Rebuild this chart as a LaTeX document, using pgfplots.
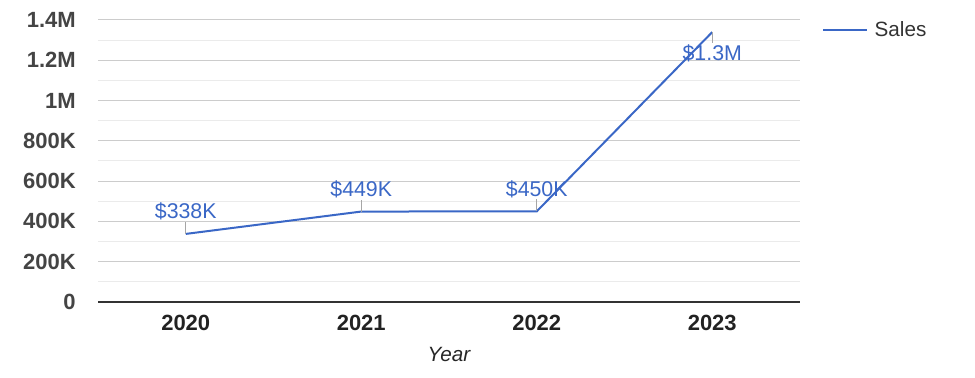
\documentclass[border=0pt]{standalone}
\usepackage{pgfplots}
\pgfplotsset{compat=1.18}
\usepackage{fontspec}
\setmainfont{Liberation Sans}
\definecolor{lineblue}{HTML}{3A67C6}
\definecolor{gridmaj}{HTML}{CCCCCC}
\definecolor{gridmin}{HTML}{EBEBEB}
\definecolor{ylab}{HTML}{444444}
\definecolor{xlab}{HTML}{222222}
\begin{document}
\begin{tikzpicture}
\useasboundingbox (0,0) rectangle (731.25pt,283.5pt);
\begin{axis}[
  at={(73.5pt,57pt)}, anchor=south west,
  width=526.5pt, height=211.5pt, scale only axis,
  xmin=-0.5, xmax=3.5, ymin=0, ymax=1400000,
  xtick={0,1,2,3}, xticklabels={2020,2021,2022,2023},
  ytick={0,200000,400000,600000,800000,1000000,1200000,1400000},
  yticklabels={0,200K,400K,600K,800K,1M,1.2M,1.4M},
  minor ytick={100000,300000,500000,700000,900000,1100000,1300000},
  scaled y ticks=false,
  ymajorgrids, yminorgrids,
  major grid style={gridmaj, line width=0.75pt},
  minor grid style={gridmin, line width=0.75pt},
  axis x line*=bottom, axis y line*=left,
  y axis line style={draw=none},
  x axis line style={color=black!80, line width=0.9pt, -},
  major tick length=0pt, minor tick length=0pt,
  tick label style={font=\fontsize{16.5}{18}\selectfont\bfseries},
  yticklabel style={color=ylab, anchor=east, inner sep=0pt, xshift=-16.5pt},
  xticklabel style={color=xlab, anchor=north, inner sep=0pt, yshift=-10pt},
  xlabel={Year},
  xlabel style={font=\fontsize{15.5}{18}\selectfont\itshape, color=black!85, at={(axis description cs:0.5,0)}, anchor=base, yshift=-45pt, inner sep=0pt},
  clip=false,
  legend style={at={(axis description cs:1.031,0.965)}, anchor=west, draw=none, fill=none, inner sep=0pt,
    font=\fontsize{15.5}{18}\selectfont, text=black!80, cells={anchor=west}},
  legend image code/.code={\draw[#1] (0pt,0pt) -- (33pt,0pt);},
]
\addplot[lineblue, line width=1.5pt] coordinates {(0,338000) (1,449000) (2,450000) (3,1340000)};
\addlegendentry{\hspace{3pt}Sales}
\draw[gray!70, line width=0.75pt] (axis cs:0,338000) -- ++(0pt,9pt);
\draw[gray!70, line width=0.75pt] (axis cs:1,449000) -- ++(0pt,9pt);
\draw[gray!70, line width=0.75pt] (axis cs:2,450000) -- ++(0pt,9pt);
\draw[gray!70, line width=0.75pt] (axis cs:3,1340000) -- ++(0pt,-8.5pt);
\node[anchor=base, inner sep=0pt, text=lineblue, font=\fontsize{16}{18}\selectfont, yshift=11.5pt] at (axis cs:0,338000) {\$338K};
\node[anchor=base, inner sep=0pt, text=lineblue, font=\fontsize{16}{18}\selectfont, yshift=11.5pt] at (axis cs:1,449000) {\$449K};
\node[anchor=base, inner sep=0pt, text=lineblue, font=\fontsize{16}{18}\selectfont, yshift=11.5pt] at (axis cs:2,450000) {\$450K};
\node[anchor=base, inner sep=0pt, text=lineblue, font=\fontsize{16}{18}\selectfont, yshift=-21pt] at (axis cs:3,1340000) {\$1.3M};
\end{axis}
\end{tikzpicture}
\end{document}
